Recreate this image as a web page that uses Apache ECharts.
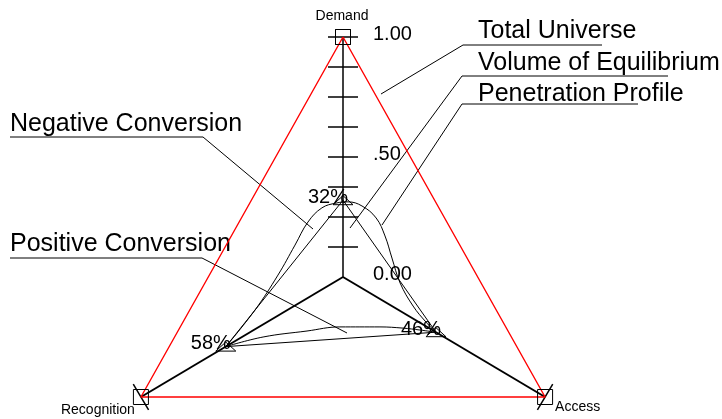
<!DOCTYPE html>
<html>
<head>
<meta charset="utf-8">
<script src="https://cdn.jsdelivr.net/npm/echarts@6.0.0/dist/echarts.min.js"></script>
<style>
  html, body { margin: 0; padding: 0; background: #fff; }
  #chart { width: 722px; height: 419px; }
</style>
</head>
<body>
<div id="chart"></div>
<script>
// the three axes of the triangle: top, bottom left, bottom right
var axisNames = ['Demand', 'Recognition', 'Access'];
var universeValues = [1, 1, 1];
var volumeValues = [0.32, 0.58, 0.46];
var demandTicks = [0.125, 0.25, 0.375, 0.5, 0.625, 0.75, 0.875, 1];
var demandTickValues = [0, 0.5, 1];
var demandTickLabels = ['0.00', '.50', '1.00'];
var endTickValues = [1, 1]; // Recognition, Access

// bell shaped penetration curve (axis units)
var penetrationUpper = [
  [-0.488, -0.29], [-0.367, -0.138], [-0.271, 0.008], [-0.2, 0.133],
  [-0.146, 0.229], [-0.088, 0.288], [-0.029, 0.308], [0.021, 0.313],
  [0.079, 0.296], [0.138, 0.246], [0.175, 0.171], [0.204, 0.079],
  [0.238, -0.025], [0.292, -0.121], [0.346, -0.188], [0.387, -0.23]
];
var penetrationLower = [
  [0.387, -0.23], [0.321, -0.221], [0.25, -0.213], [0.154, -0.208],
  [-0.013, -0.208], [-0.15, -0.225], [-0.333, -0.25], [-0.488, -0.29]
];

var seriesNames = ['Total Universe', 'Volume of Equilibrium', 'Penetration Profile',
                   'Negative Conversion', 'Positive Conversion'];

var FONT = "'Liberation Sans', Arial, sans-serif";

// direction of each axis, one unit = full scale
var axisDir = [[0, 1], [-0.842, -0.5], [0.842, -0.5]];

function toXY(axis, v) {
  return [axisDir[axis][0] * v, axisDir[axis][1] * v];
}
function ring(values) {
  var pts = values.map(function (v, i) { return toXY(i, v); });
  pts.push(pts[0]);
  return pts;
}

// tick list: [axis, value]
var tickData = demandTicks.map(function (v) { return [0, v]; });
tickData.push([1, endTickValues[0]], [2, endTickValues[1]]);

var nameOffsets = [[-1, -21, 'center'], [-43, 13, 'center'], [10, 10, 'left']];

// callouts (annotation layout, pixels)
var callouts = [
  { text: seriesNames[0], x: 478, y: 31, line: [[602, 45], [463, 45], [381, 94]] },
  { text: seriesNames[1], x: 478, y: 63, line: [[668, 76], [462, 76], [350, 228]] },
  { text: seriesNames[2], x: 478, y: 94, line: [[638, 104], [462, 104], [382, 225]] },
  { text: seriesNames[3], x: 10, y: 124, line: [[10, 137], [203, 137], [313, 229]] },
  { text: seriesNames[4], x: 10, y: 244, line: [[10, 258], [202, 258], [347, 333]] }
];
var graphics = [];
callouts.forEach(function (c) {
  graphics.push({
    type: 'text', x: c.x, y: c.y, silent: true,
    style: { text: c.text, fontSize: 25, fontFamily: FONT, fill: '#000',
             align: 'left', verticalAlign: 'middle' }
  });
  graphics.push({
    type: 'polyline', silent: true,
    shape: { points: c.line },
    style: { stroke: '#000', lineWidth: 1, fill: null }
  });
});

var dom = document.getElementById('chart');
var myChart = echarts.init(dom);

var option = {
  backgroundColor: '#fff',
  animation: false,
  grid: { left: 55, top: 25, width: 576, height: 384 },
  xAxis: { type: 'value', min: -1.2, max: 1.2, show: false },
  yAxis: { type: 'value', min: -0.55, max: 1.05, show: false },
  graphic: graphics,
  series: [
    {
      // axis lines from the centre
      type: 'custom', silent: true, z: 1,
      data: axisNames.map(function (n, i) { return [i, 0]; }),
      renderItem: function (params, api) {
        var i = api.value(0);
        var c = api.coord([0, 0]);
        var e = api.coord(toXY(i, 1));
        return {
          type: 'line',
          shape: { x1: c[0], y1: c[1], x2: e[0], y2: e[1] },
          style: { stroke: '#000', lineWidth: i === 0 ? 1.5 : 2 }
        };
      }
    },
    {
      // tick marks across the axes
      type: 'custom', silent: true, z: 2,
      data: tickData,
      renderItem: function (params, api) {
        var axis = api.value(0), v = api.value(1);
        var p = toXY(axis, v);
        var d = axisDir[axis];
        var len = Math.sqrt(d[0] * d[0] + d[1] * d[1]);
        var n = [-d[1] / len, d[0] / len];
        var h = 0.0625;
        var a = api.coord([p[0] + n[0] * h, p[1] + n[1] * h]);
        var b = api.coord([p[0] - n[0] * h, p[1] - n[1] * h]);
        return {
          type: 'line',
          shape: { x1: a[0], y1: a[1], x2: b[0], y2: b[1] },
          style: { stroke: '#000', lineWidth: 1.5 }
        };
      }
    },
    {
      // tick labels of the demand axis
      type: 'custom', silent: true, z: 2,
      data: demandTickValues.map(function (v) { return [0, v]; }),
      renderItem: function (params, api) {
        var pt = api.coord([0, api.value(1)]);
        return {
          type: 'text', x: pt[0] + 30, y: pt[1] - 3,
          style: { text: demandTickLabels[params.dataIndex], fontSize: 20, fontFamily: FONT,
                   fill: '#000', align: 'left', verticalAlign: 'middle' }
        };
      }
    },
    {
      // axis names
      type: 'custom', silent: true, z: 2,
      data: axisNames.map(function (n, i) { return [i, 1]; }),
      renderItem: function (params, api) {
        var i = params.dataIndex;
        var pt = api.coord(toXY(i, api.value(1)));
        var o = nameOffsets[i];
        return {
          type: 'text', x: pt[0] + o[0], y: pt[1] + o[1],
          style: { text: axisNames[i], fontSize: 14, fontFamily: FONT, fill: '#000',
                   align: o[2], verticalAlign: 'middle' }
        };
      }
    },
    {
      name: seriesNames[0],
      type: 'line', z: 3, silent: true,
      data: ring(universeValues),
      symbol: 'rect', symbolSize: 15,
      itemStyle: { color: 'rgba(0,0,0,0)', borderColor: '#000', borderWidth: 1 },
      lineStyle: { color: '#ff0000', width: 1.4 }
    },
    {
      name: seriesNames[1],
      type: 'line', z: 4, silent: true,
      data: ring(volumeValues),
      symbol: 'none',
      lineStyle: { color: '#000', width: 1 }
    },
    {
      name: seriesNames[2],
      type: 'line', z: 4, silent: true,
      data: penetrationUpper,
      smooth: 0.4, symbol: 'none',
      lineStyle: { color: '#000', width: 1 }
    },
    {
      name: seriesNames[2],
      type: 'line', z: 4, silent: true,
      data: penetrationLower,
      smooth: 0.4, symbol: 'none',
      lineStyle: { color: '#000', width: 1 }
    },
    {
      // value markers and percentages
      type: 'custom', silent: true, z: 5,
      data: volumeValues.map(function (v, i) { return [i, v]; }),
      renderItem: function (params, api) {
        var i = params.dataIndex;
        var pt = api.coord(toXY(i, api.value(1)));
        var x = pt[0], y = pt[1];
        return {
          type: 'group',
          children: [
            {
              type: 'polygon',
              shape: { points: [[x - 10, y + 4.5], [x + 10, y + 4.5], [x, y - 4.5]] },
              style: { stroke: '#000', fill: null, lineWidth: 1 }
            },
            {
              type: 'text', x: x + 5, y: y - 3,
              style: { text: Math.round(api.value(1) * 100) + '%', fontSize: 20, fontFamily: FONT,
                       fill: '#000', align: 'right', verticalAlign: 'middle' }
            }
          ]
        };
      }
    }
  ]
};

if (option && typeof option === 'object') {
  myChart.setOption(option);
}

window.onresize = function () {
  myChart.resize();
};
</script>
</body>
</html>
